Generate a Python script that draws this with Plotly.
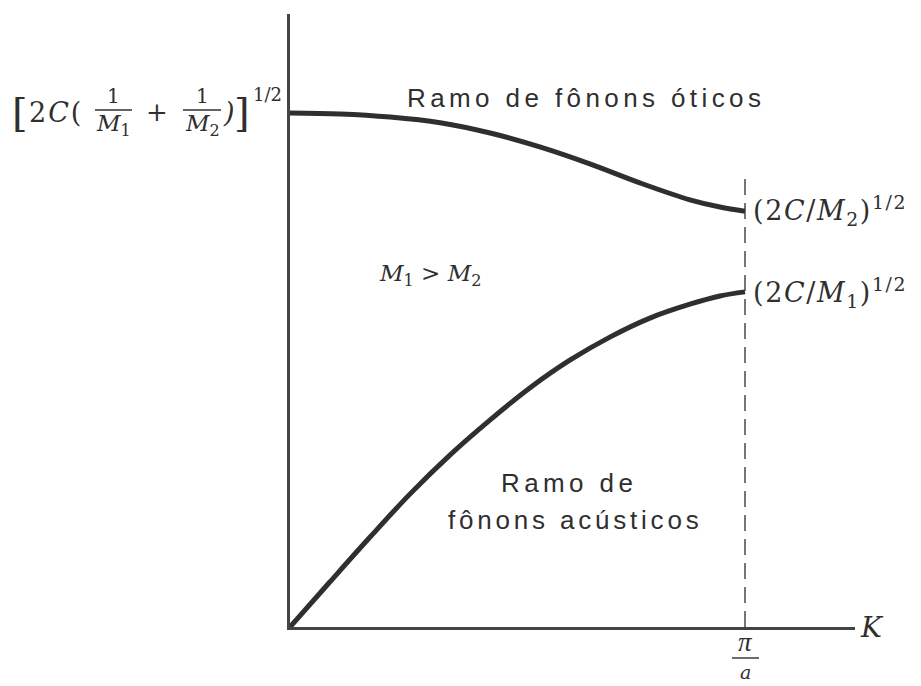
import plotly.graph_objects as go

# Dispersion of a diatomic linear chain (M1 > M2); K in units of pi/a,
# omega normalised to the optical value at K = 0.
K_OPT = [0.0, 0.110, 0.220, 0.330, 0.440, 0.549, 0.659, 0.769, 0.879, 0.945, 1.0]
W_OPT = [1.0, 0.998, 0.992, 0.981, 0.961, 0.934, 0.901, 0.864, 0.831, 0.817, 0.809]

K_AC = [0.0, 0.088, 0.176, 0.264, 0.352, 0.440, 0.527, 0.615, 0.703, 0.791, 0.879, 0.945, 1.0]
W_AC = [0.0, 0.088, 0.175, 0.259, 0.335, 0.403, 0.465, 0.519, 0.564, 0.601, 0.628, 0.644, 0.652]

K_ZONE = [1.0, 1.0]          # zone boundary pi/a
W_ZONE = [0.0, 0.874]

W, H = 921, 686
L, R, T, B = 290, 66, 14, 59
X_MAX = 1.2418
Y_MAX = 1.1926

INK = "#2f2f2f"
AXIS = "#444444"
SERIF = "DejaVu Serif, Liberation Serif, serif"
TIMES = "Liberation Serif, Times New Roman, serif"
SANS = "Liberation Sans, Arial, Helvetica, sans-serif"


def px(x):
    return (x - L) / (W - L - R)


def py(y):
    return (H - B - y) / (H - B - T)


fig = go.Figure()
fig.add_trace(go.Scatter(x=K_ZONE, y=W_ZONE, mode="lines",
                         line=dict(color="#555555", width=1.6, dash="16px,8px"),
                         hoverinfo="skip"))
fig.add_trace(go.Scatter(x=K_OPT, y=W_OPT, mode="lines", line_shape="spline",
                         line=dict(color=INK, width=5), hoverinfo="skip"))
fig.add_trace(go.Scatter(x=K_AC, y=W_AC, mode="lines", line_shape="spline",
                         line=dict(color=INK, width=5), hoverinfo="skip"))

ann = []


def txt(x, y, s, size, font=SERIF, xa="center", ya="middle", color=INK):
    ann.append(dict(x=px(x), y=py(y), xref="paper", yref="paper", text=s,
                    showarrow=False, xanchor=xa, yanchor=ya,
                    font=dict(family=font, size=size, color=color)))


shapes = []


def bar(x0, x1, y, w=1.6):
    shapes.append(dict(type="line", xref="paper", yref="paper",
                       x0=px(x0), x1=px(x1), y0=py(y), y1=py(y),
                       line=dict(color=INK, width=w)))


def spaced(s, gap):
    return "<span style='letter-spacing:{}px'>{}</span>".format(gap, s)


# branch names
txt(586, 98, spaced("Ramo de fônons óticos", 4.4), 26, SANS)
txt(569, 483, spaced("Ramo de", 4.4), 26, SANS)
txt(575, 520, spaced("fônons acústicos", 3.8), 26, SANS)

# mass condition
txt(430, 275, "<i>M</i><sub>1</sub> &gt; <i>M</i><sub>2</sub>", 23)

# optical value at K = 0
txt(20, 112, "[", 40)
txt(56, 112, spaced("2<i>C</i>(", 2), 27)
txt(113, 96, "1", 20)
bar(95, 132, 110)
txt(113, 125, "<i>M</i><sub>1</sub>", 23)
txt(157, 112, "+", 26)
txt(202, 96, "1", 20)
bar(183, 221, 110)
txt(202, 125, "<i>M</i><sub>2</sub>", 23)
txt(229, 112, "<i>)</i>", 27)
txt(242, 112, "]", 40)
txt(267, 95, "1/2", 18)

# zone-boundary values
txt(751, 211, spaced("(2<i>C</i>/<i>M</i><sub>2</sub>)<sup>1/2</sup>", 1.6), 27, xa="left")
txt(751, 292, spaced("(2<i>C</i>/<i>M</i><sub>1</sub>)<sup>1/2</sup>", 1.6), 27, xa="left")

# horizontal-axis labels
txt(872, 628, "<i>K</i>", 28)
txt(745, 642, "<i>π</i>", 27, TIMES)
bar(732, 759, 658, 1.4)
txt(745, 672, "<i>a</i>", 19)

fig.update_layout(
    width=W, height=H,
    margin=dict(l=L, r=R, t=T, b=B, pad=0),
    paper_bgcolor="white", plot_bgcolor="white",
    showlegend=False,
    annotations=ann, shapes=shapes,
    xaxis=dict(range=[0, X_MAX], showgrid=False, zeroline=False,
               showticklabels=False, ticks="", showline=True,
               linecolor=AXIS, linewidth=2.5),
    yaxis=dict(range=[0, Y_MAX], showgrid=False, zeroline=False,
               showticklabels=False, ticks="", showline=True,
               linecolor=AXIS, linewidth=2.5),
)

fig.write_html("out.html")
